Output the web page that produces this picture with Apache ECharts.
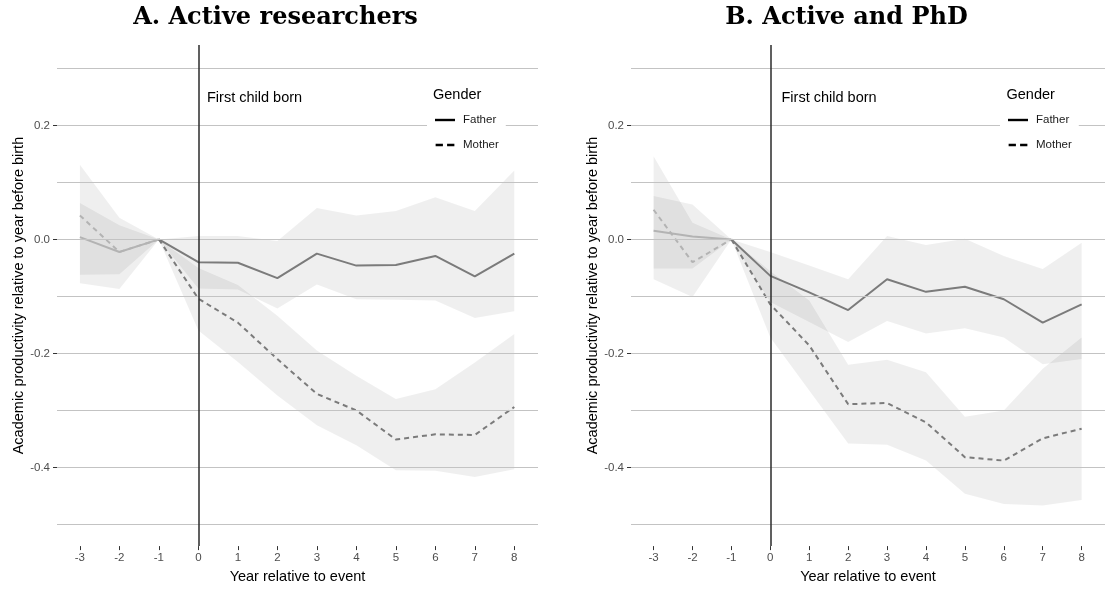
<!DOCTYPE html>
<html>
<head>
<meta charset="utf-8">
<title>Academic productivity around the birth of the first child</title>
<script src="https://cdn.jsdelivr.net/npm/echarts@6/dist/echarts.min.js"></script>
<style>
  html, body { margin: 0; padding: 0; background: #fff; }
  #chart { width: 1105px; height: 589px; }
</style>
</head>
<body>
<div id="chart"></div>
<script>
// Event time: years relative to the birth of the first child
const years = [-3, -2, -1, 0, 1, 2, 3, 4, 5, 6, 7, 8];
const yTickValues = [-0.4, -0.2, 0, 0.2];
const gridValues = [-0.5, -0.4, -0.3, -0.2, -0.1, 0, 0.1, 0.2, 0.3];

// Panel A: active researchers
const fatherA   = [0.004, -0.022, 0, -0.040, -0.041, -0.068, -0.025, -0.046, -0.045, -0.029, -0.065, -0.025];
const fatherALo = [-0.062, -0.061, 0, -0.086, -0.088, -0.121, -0.079, -0.105, -0.106, -0.107, -0.138, -0.126];
const fatherAHi = [0.064, 0.025, 0, 0.006, 0.006, -0.003, 0.055, 0.042, 0.050, 0.074, 0.050, 0.121];
const motherA   = [0.042, -0.022, 0, -0.104, -0.146, -0.210, -0.271, -0.300, -0.351, -0.342, -0.343, -0.294];
const motherALo = [-0.077, -0.087, 0, -0.160, -0.215, -0.274, -0.326, -0.361, -0.405, -0.406, -0.417, -0.403];
const motherAHi = [0.131, 0.038, 0, -0.050, -0.080, -0.134, -0.195, -0.239, -0.280, -0.263, -0.216, -0.166];

// Panel B: active researchers with a PhD
const fatherB   = [0.015, 0.005, 0, -0.064, -0.093, -0.124, -0.070, -0.092, -0.083, -0.105, -0.146, -0.114];
const fatherBLo = [-0.051, -0.051, 0, -0.110, -0.145, -0.180, -0.143, -0.165, -0.156, -0.172, -0.219, -0.210];
const fatherBHi = [0.076, 0.061, 0, -0.022, -0.046, -0.070, 0.006, -0.010, 0.001, -0.029, -0.052, -0.006];
const motherB   = [0.052, -0.040, 0, -0.114, -0.186, -0.289, -0.287, -0.321, -0.382, -0.388, -0.349, -0.332];
const motherBLo = [-0.070, -0.101, 0, -0.172, -0.265, -0.358, -0.360, -0.388, -0.446, -0.464, -0.467, -0.457];
const motherBHi = [0.146, 0.029, 0, -0.056, -0.107, -0.220, -0.211, -0.233, -0.311, -0.300, -0.227, -0.172];

const SANS = 'Liberation Sans, Arial, sans-serif';
const BAND = 'rgba(0,0,0,0.062)';
const LINE_POST = '#7b7b7b';
const LINE_PRE = '#b3b3b3';
const GRID_LINE = '#c3c3c3';
const EVENT_INDEX = years.indexOf(-1);

function pairs(values, from, to) {
  return years.slice(from, to).map((x, i) => [x, values[from + i]]);
}

// Confidence band: one polygon running along the upper bound and back along the lower bound
function bandSeries(name, lo, hi, axisIndex, extra) {
  return Object.assign({
    type: 'custom', name: name, coordinateSystem: 'cartesian2d',
    xAxisIndex: axisIndex, yAxisIndex: axisIndex, silent: true, z: 1,
    data: years.map((x, i) => [x, lo[i], hi[i]]),
    encode: { x: 0, y: [1, 2] },
    renderItem: function (params, api) {
      if (params.dataIndex !== 0) return null;
      const upper = years.map((x, i) => api.coord([x, hi[i]]));
      const lower = years.map((x, i) => api.coord([x, lo[i]])).reverse();
      return {
        type: 'polygon',
        shape: { points: upper.concat(lower) },
        style: { fill: BAND, stroke: null }
      };
    }
  }, extra || {});
}

function lineSeries(name, values, axisIndex, dashed, withEventLine) {
  const lineType = dashed ? [5, 4] : 'solid';
  const post = {
    type: 'line', name: name, xAxisIndex: axisIndex, yAxisIndex: axisIndex,
    data: pairs(values, EVENT_INDEX, years.length), symbol: 'none',
    lineStyle: { color: LINE_POST, width: 2, type: lineType }, itemStyle: { color: LINE_POST },
    z: 3
  };
  if (withEventLine) {
    post.markLine = {
      silent: true, symbol: 'none', label: { show: false }, animation: false,
      lineStyle: { color: '#2b2b2b', width: 1.5, type: 'solid' },
      data: [{ xAxis: 0 }]
    };
  }
  const pre = {
    type: 'line', name: name + ' (pre)', xAxisIndex: axisIndex, yAxisIndex: axisIndex,
    data: pairs(values, 0, EVENT_INDEX + 1), symbol: 'none',
    lineStyle: { color: LINE_PRE, width: 2, type: lineType }, itemStyle: { color: LINE_PRE },
    z: 3
  };
  return [pre, post];
}

const gridMarks = {
  markLine: {
    silent: true, symbol: 'none', label: { show: false }, animation: false,
    lineStyle: { color: GRID_LINE, width: 1.1, type: 'solid' },
    data: gridValues.map(v => ({ yAxis: v }))
  }
};

function xAxis(gridIndex) {
  return {
    type: 'value', gridIndex: gridIndex, min: -3.58, max: 8.6,
    splitLine: { show: false }, axisLine: { show: false, onZero: false },
    axisTick: { show: true, length: 4, lineStyle: { color: '#333', width: 1 }, customValues: years },
    axisLabel: { customValues: years, color: '#4d4d4d', fontSize: 11.5, fontFamily: SANS, margin: 6 },
    name: 'Year relative to event', nameLocation: 'middle', nameGap: 22,
    nameTextStyle: { color: '#000', fontSize: 14.5, fontFamily: SANS }
  };
}

function yAxis(gridIndex) {
  return {
    type: 'value', gridIndex: gridIndex, min: -0.538, max: 0.341,
    splitLine: { show: false }, axisLine: { show: false, onZero: false },
    axisTick: { show: true, length: 4, lineStyle: { color: '#333', width: 1 }, customValues: yTickValues },
    axisLabel: {
      customValues: yTickValues, color: '#4d4d4d', fontSize: 11.5, fontFamily: SANS, margin: 7,
      formatter: v => Number(v).toFixed(1)
    },
    name: 'Academic productivity relative to year before birth', nameLocation: 'middle', nameGap: 31,
    nameTextStyle: { color: '#000', fontSize: 14.5, fontFamily: SANS }
  };
}

function legend(left) {
  return {
    orient: 'vertical', left: left, top: 108, padding: [6, 7, 6, 8],
    backgroundColor: '#fff', itemWidth: 20, itemHeight: 2.5, itemGap: 13,
    textStyle: { color: '#1a1a1a', fontSize: 11.5, fontFamily: SANS, padding: [0, 0, 0, 3] },
    itemStyle: { color: '#000' },
    selectedMode: false,
    data: [
      { name: 'Father', icon: 'path://M0,0h20v2.4h-20z' },
      { name: 'Mother', icon: 'path://M0,0h7v2.4h-7z M11,0h7v2.4h-7z' }
    ],
    z: 10
  };
}

function text(x, y, str, font, align) {
  return {
    type: 'text', x: x, y: y, silent: true, z: 20,
    style: { text: str, font: font, fill: '#000', textAlign: align || 'left', textVerticalAlign: 'middle' }
  };
}

const titleFont = 'bold 24px "DejaVu Serif", serif';
const labelFont = '14.5px ' + SANS;

const option = {
  animation: false,
  backgroundColor: '#fff',
  grid: [
    { left: 57, top: 45, width: 481, bottom: 41 },
    { left: 631, top: 45, width: 481, bottom: 41 }
  ],
  xAxis: [xAxis(0), xAxis(1)],
  yAxis: [yAxis(0), yAxis(1)],
  legend: [legend(427), legend(1000)],
  graphic: [
    text(275.5, 18, 'A. Active researchers', titleFont, 'center'),
    text(846.5, 18, 'B. Active and PhD', titleFont, 'center'),
    text(207, 98, 'First child born', labelFont),
    text(781.5, 98, 'First child born', labelFont),
    text(433, 94.5, 'Gender', labelFont),
    text(1006.5, 94.5, 'Gender', labelFont)
  ],
  series: [
    bandSeries('Father band A', fatherALo, fatherAHi, 0, gridMarks),
    bandSeries('Mother band A', motherALo, motherAHi, 0),
    bandSeries('Father band B', fatherBLo, fatherBHi, 1, gridMarks),
    bandSeries('Mother band B', motherBLo, motherBHi, 1),
    ...lineSeries('Father', fatherA, 0, false, true),
    ...lineSeries('Mother', motherA, 0, true, false),
    ...lineSeries('Father', fatherB, 1, false, true),
    ...lineSeries('Mother', motherB, 1, true, false)
  ]
};

const chart = echarts.init(document.getElementById('chart'), null, { renderer: 'canvas' });
chart.setOption(option);
</script>
</body>
</html>
